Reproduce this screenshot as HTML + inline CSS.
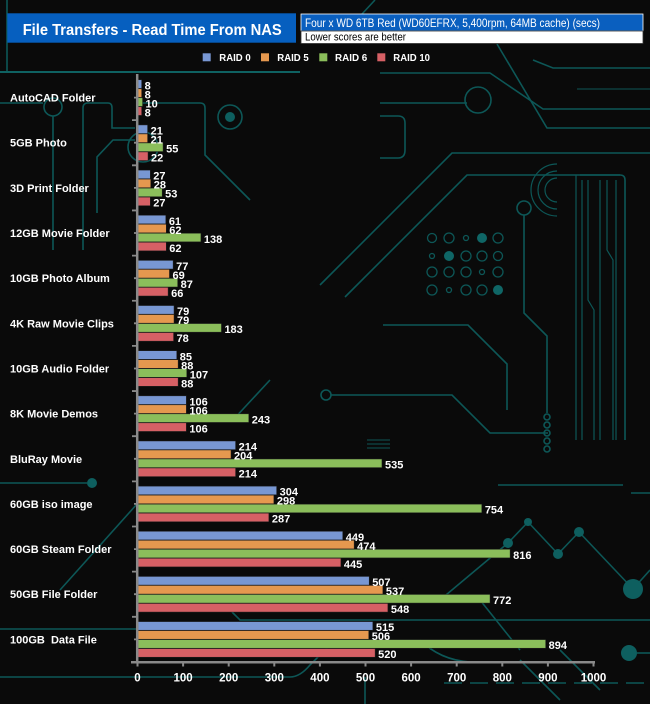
<!DOCTYPE html>
<html><head><meta charset="utf-8">
<style>
html,body{margin:0;padding:0;background:#0a0a0a;}
svg{display:block;}
.b{fill:#7897d3}.o{fill:#e5984f}.g{fill:#8bbe5b}.r{fill:#d66065}
.bars rect{stroke:#1e1e1e;stroke-width:.5}
.v{font:bold 11px "Liberation Sans",sans-serif;fill:#fff}
.c{font:bold 11px "Liberation Sans",sans-serif;fill:#fff}
.t{font:bold 11.5px "Liberation Sans",sans-serif;fill:#fff;text-anchor:middle}
.l{font:bold 10.5px "Liberation Sans",sans-serif;fill:#fff}
</style></head><body>
<svg width="650" height="704" viewBox="0 0 650 704" xmlns="http://www.w3.org/2000/svg">
<rect width="650" height="704" fill="#0a0a0a"/>
<!-- background circuit traces -->
<g fill="none" stroke="#0d5757" stroke-width="1.6">
<path d="M7,0 V72"/>
<path d="M0,72 H300" stroke="#0f6262" stroke-width="2"/>
<path d="M375,0 L362,14"/>
<path d="M497,44 L547,128 H650"/>
<path d="M380,73 H490 L543,109 H650"/>
<path d="M533,60 L553,68 H650"/>
<path d="M577,89 H650" stroke-width="1"/>
<circle cx="478" cy="100" r="13"/>
<path d="M380,103 H467"/>
<path d="M380,116 H398 Q405,116 405,123 V150 Q405,158 398,158 H380"/>
<path d="M650,153 H452 L320,285"/>
<path d="M620,175 H467 L345,297"/>
<circle cx="53" cy="107" r="9"/>
<path d="M53,116 V250"/>
<path d="M0,103 H43"/>
<path d="M83,250 V108 Q83,103 88,103 H108 Q112,103 112,108 V128 H135"/>
<path d="M140,103 H200 Q205,103 205,108 V155 L250,200"/>
<path d="M97,213 V157 L113,140 H135"/>
<circle cx="230" cy="117" r="12"/>
<circle cx="143" cy="147" r="15"/>
<path d="M0,483 H87"/>
<path d="M137,504 L60,590"/>
<path d="M0,629 H137"/>
<path d="M0,677 H290 Q300,677 310,665 L345,630"/>
<path d="M270,380 L232,421"/>
<circle cx="326" cy="395" r="5"/>
<path d="M331,395 H452 L490,433 H548"/>
<circle cx="524" cy="208" r="7"/>
<path d="M524,215 V313 L547,336 V413"/>
<circle cx="547" cy="417" r="3"/><circle cx="547" cy="425" r="3"/><circle cx="547" cy="433" r="3"/><circle cx="547" cy="441" r="3"/><circle cx="547" cy="449" r="3"/>
<path d="M383,325 H468 L507,364 V410"/>
<path d="M580,175 H620 Q625,175 625,180 V440"/>
<path d="M576,175 V440 M582,180 V440 M588,180 V300 L594,310 V440 M600,180 V440 M607,180 V250 L613,260 V440 M616,180 V440" stroke-width="1.2"/>
<path d="M557,178 A12,12 0 0 0 557,202 M557,171 A19,19 0 0 0 557,209 M557,164 A26,26 0 0 0 557,216" stroke-width="1.2"/>
<path d="M440,600 L508,543 L528,522 L558,554 L579,532 L633,589 L650,570"/>
<path d="M637,653 H650"/>
<path d="M232,612 L240,620 H650"/>
<path d="M444,683 H650" stroke-dasharray="18,8"/>
<path d="M365,677 V704"/>
<path d="M631,493 H650"/>
<path d="M498,485 H623"/>
<path d="M420,640 Q440,660 470,662 M480,600 L520,650 M560,650 L600,690 M520,660 L560,700"/>
<path d="M367,440 H390 M367,444 H390 M367,448 H390" stroke-width="1"/>
</g>
<g fill="#0e5f5f">
<circle cx="92" cy="483" r="5"/>
<circle cx="508" cy="543" r="5"/><circle cx="528" cy="522" r="4"/><circle cx="558" cy="554" r="5"/><circle cx="579" cy="532" r="5"/>
<circle cx="633" cy="589" r="10"/>
<circle cx="629" cy="653" r="8"/>
<circle cx="230" cy="117" r="5"/>
</g>
<!-- dot grid -->
<g fill="none" stroke="#0d5757" stroke-width="1.3">
<circle cx="432" cy="238" r="4.5"/><circle cx="449" cy="238" r="5"/><circle cx="466" cy="238" r="2.5"/><circle cx="498" cy="238" r="5"/>
<circle cx="432" cy="256" r="2.5"/><circle cx="466" cy="256" r="5"/><circle cx="482" cy="256" r="5"/><circle cx="498" cy="256" r="4.5"/>
<circle cx="432" cy="272" r="5"/><circle cx="449" cy="272" r="5"/><circle cx="466" cy="272" r="5"/><circle cx="482" cy="272" r="2.5"/><circle cx="498" cy="272" r="5"/>
<circle cx="432" cy="290" r="5"/><circle cx="449" cy="290" r="2.5"/><circle cx="466" cy="290" r="5"/><circle cx="482" cy="290" r="5"/>
</g>
<g fill="#0f6666"><circle cx="482" cy="238" r="5"/><circle cx="449" cy="256" r="5"/><circle cx="498" cy="290" r="5"/></g>

<!-- header -->
<rect x="7.3" y="13.3" width="288.7" height="29.4" fill="#065fbf"/>
<text x="22.7" y="35" textLength="259" lengthAdjust="spacingAndGlyphs" style="font:bold 16px 'Liberation Sans',sans-serif;fill:#fff">File Transfers - Read Time From NAS</text>
<rect x="301" y="14" width="342" height="17" fill="#0a5fbf" stroke="#ffffff" stroke-width="0.8"/>
<rect x="301" y="31" width="342" height="12.5" fill="#ffffff" stroke="#333" stroke-width="0.8"/>
<text x="305" y="27" textLength="295" lengthAdjust="spacingAndGlyphs" style="font:12px 'Liberation Sans',sans-serif;fill:#fff">Four x WD 6TB Red (WD60EFRX, 5,400rpm, 64MB cache) (secs)</text>
<text x="305" y="40.5" textLength="101" lengthAdjust="spacingAndGlyphs" style="font:11px 'Liberation Sans',sans-serif;fill:#000">Lower scores are better</text>

<!-- legend -->
<rect x="202.7" y="53.3" width="8" height="8" class="b"/>
<text x="219.3" y="61" textLength="31.4" lengthAdjust="spacingAndGlyphs" class="l">RAID 0</text>
<rect x="261" y="53.3" width="8" height="8" class="o"/>
<text x="277.3" y="61" textLength="31.4" lengthAdjust="spacingAndGlyphs" class="l">RAID 5</text>
<rect x="319.3" y="53.3" width="8" height="8" class="g"/>
<text x="335" y="61" textLength="32.3" lengthAdjust="spacingAndGlyphs" class="l">RAID 6</text>
<rect x="377.3" y="53.3" width="8" height="8" class="r"/>
<text x="393.3" y="61" textLength="36.7" lengthAdjust="spacingAndGlyphs" class="l">RAID 10</text>

<!-- category labels -->
<g class="c">
<text x="10" y="101.6" class="c">AutoCAD Folder</text>
<text x="10" y="146.7" class="c">5GB Photo</text>
<text x="10" y="191.9" class="c">3D Print Folder</text>
<text x="10" y="237" class="c">12GB Movie Folder</text>
<text x="10" y="282.2" class="c">10GB Photo Album</text>
<text x="10" y="327.3" class="c">4K Raw Movie Clips</text>
<text x="10" y="372.5" class="c">10GB Audio Folder</text>
<text x="10" y="417.6" class="c">8K Movie Demos</text>
<text x="10" y="462.8" class="c">BluRay Movie</text>
<text x="10" y="507.9" class="c">60GB iso image</text>
<text x="10" y="553.1" class="c">60GB Steam Folder</text>
<text x="10" y="598.2" class="c">50GB File Folder</text>
<text x="10" y="643.4" class="c">100GB&#160; Data File</text>
</g>

<!-- bars -->
<g class="bars">
<g transform="translate(138,75)">
<rect y="4.8" width="3.65" height="8.6" class="b"/><rect y="13.8" width="3.65" height="8.6" class="o"/><rect y="22.8" width="4.56" height="8.6" class="g"/><rect y="31.8" width="3.65" height="8.6" class="r"/>
<text class="v" x="6.65" y="14.4">8</text><text class="v" x="6.65" y="23.4">8</text><text class="v" x="7.56" y="32.4">10</text><text class="v" x="6.65" y="41.4">8</text>
</g>
<g transform="translate(138,120.15)">
<rect y="4.8" width="9.58" height="8.6" class="b"/><rect y="13.8" width="9.58" height="8.6" class="o"/><rect y="22.8" width="25.08" height="8.6" class="g"/><rect y="31.8" width="10.03" height="8.6" class="r"/>
<text class="v" x="12.58" y="14.4">21</text><text class="v" x="12.58" y="23.4">21</text><text class="v" x="28.08" y="32.4">55</text><text class="v" x="13.03" y="41.4">22</text>
</g>
<g transform="translate(138,165.3)">
<rect y="4.8" width="12.31" height="8.6" class="b"/><rect y="13.8" width="12.77" height="8.6" class="o"/><rect y="22.8" width="24.17" height="8.6" class="g"/><rect y="31.8" width="12.31" height="8.6" class="r"/>
<text class="v" x="15.31" y="14.4">27</text><text class="v" x="15.77" y="23.4">28</text><text class="v" x="27.17" y="32.4">53</text><text class="v" x="15.31" y="41.4">27</text>
</g>
<g transform="translate(138,210.45)">
<rect y="4.8" width="27.82" height="8.6" class="b"/><rect y="13.8" width="28.27" height="8.6" class="o"/><rect y="22.8" width="62.93" height="8.6" class="g"/><rect y="31.8" width="28.27" height="8.6" class="r"/>
<text class="v" x="30.82" y="14.4">61</text><text class="v" x="31.27" y="23.4">62</text><text class="v" x="65.93" y="32.4">138</text><text class="v" x="31.27" y="41.4">62</text>
</g>
<g transform="translate(138,255.6)">
<rect y="4.8" width="35.11" height="8.6" class="b"/><rect y="13.8" width="31.46" height="8.6" class="o"/><rect y="22.8" width="39.67" height="8.6" class="g"/><rect y="31.8" width="30.1" height="8.6" class="r"/>
<text class="v" x="38.11" y="14.4">77</text><text class="v" x="34.46" y="23.4">69</text><text class="v" x="42.67" y="32.4">87</text><text class="v" x="33.1" y="41.4">66</text>
</g>
<g transform="translate(138,300.75)">
<rect y="4.8" width="36.02" height="8.6" class="b"/><rect y="13.8" width="36.02" height="8.6" class="o"/><rect y="22.8" width="83.45" height="8.6" class="g"/><rect y="31.8" width="35.57" height="8.6" class="r"/>
<text class="v" x="39.02" y="14.4">79</text><text class="v" x="39.02" y="23.4">79</text><text class="v" x="86.45" y="32.4">183</text><text class="v" x="38.57" y="41.4">78</text>
</g>
<g transform="translate(138,345.9)">
<rect y="4.8" width="38.76" height="8.6" class="b"/><rect y="13.8" width="40.13" height="8.6" class="o"/><rect y="22.8" width="48.79" height="8.6" class="g"/><rect y="31.8" width="40.13" height="8.6" class="r"/>
<text class="v" x="41.76" y="14.4">85</text><text class="v" x="43.13" y="23.4">88</text><text class="v" x="51.79" y="32.4">107</text><text class="v" x="43.13" y="41.4">88</text>
</g>
<g transform="translate(138,391.05)">
<rect y="4.8" width="48.34" height="8.6" class="b"/><rect y="13.8" width="48.34" height="8.6" class="o"/><rect y="22.8" width="110.81" height="8.6" class="g"/><rect y="31.8" width="48.34" height="8.6" class="r"/>
<text class="v" x="51.34" y="14.4">106</text><text class="v" x="51.34" y="23.4">106</text><text class="v" x="113.81" y="32.4">243</text><text class="v" x="51.34" y="41.4">106</text>
</g>
<g transform="translate(138,436.2)">
<rect y="4.8" width="97.58" height="8.6" class="b"/><rect y="13.8" width="93.02" height="8.6" class="o"/><rect y="22.8" width="243.96" height="8.6" class="g"/><rect y="31.8" width="97.58" height="8.6" class="r"/>
<text class="v" x="100.58" y="14.4">214</text><text class="v" x="96.02" y="23.4">204</text><text class="v" x="246.96" y="32.4">535</text><text class="v" x="100.58" y="41.4">214</text>
</g>
<g transform="translate(138,481.35)">
<rect y="4.8" width="138.62" height="8.6" class="b"/><rect y="13.8" width="135.89" height="8.6" class="o"/><rect y="22.8" width="343.82" height="8.6" class="g"/><rect y="31.8" width="130.87" height="8.6" class="r"/>
<text class="v" x="141.62" y="14.4">304</text><text class="v" x="138.89" y="23.4">298</text><text class="v" x="346.82" y="32.4">754</text><text class="v" x="133.87" y="41.4">287</text>
</g>
<g transform="translate(138,526.5)">
<rect y="4.8" width="204.74" height="8.6" class="b"/><rect y="13.8" width="216.14" height="8.6" class="o"/><rect y="22.8" width="372.1" height="8.6" class="g"/><rect y="31.8" width="202.92" height="8.6" class="r"/>
<text class="v" x="207.74" y="14.4">449</text><text class="v" x="219.14" y="23.4">474</text><text class="v" x="375.1" y="32.4">816</text><text class="v" x="205.92" y="41.4">445</text>
</g>
<g transform="translate(138,571.65)">
<rect y="4.8" width="231.19" height="8.6" class="b"/><rect y="13.8" width="244.87" height="8.6" class="o"/><rect y="22.8" width="352.03" height="8.6" class="g"/><rect y="31.8" width="249.89" height="8.6" class="r"/>
<text class="v" x="234.19" y="14.4">507</text><text class="v" x="247.87" y="23.4">537</text><text class="v" x="355.03" y="32.4">772</text><text class="v" x="252.89" y="41.4">548</text>
</g>
<g transform="translate(138,616.8)">
<rect y="4.8" width="234.84" height="8.6" class="b"/><rect y="13.8" width="230.74" height="8.6" class="o"/><rect y="22.8" width="407.66" height="8.6" class="g"/><rect y="31.8" width="237.12" height="8.6" class="r"/>
<text class="v" x="237.84" y="14.4">515</text><text class="v" x="233.74" y="23.4">506</text><text class="v" x="410.66" y="32.4">894</text><text class="v" x="240.12" y="41.4">520</text>
</g>
</g>

<!-- axes -->
<g stroke="#8a8a8a" fill="none">
<path d="M137.2,74 V663.5" stroke-width="2.5"/>
<path d="M131,662.2 H595" stroke-width="2.5"/>
<path d="M132,120.15 H137 M132,165.3 H137 M132,210.45 H137 M132,255.6 H137 M132,300.75 H137 M132,345.9 H137 M132,391.05 H137 M132,436.2 H137 M132,481.35 H137 M132,526.5 H137 M132,571.65 H137 M132,616.8 H137" stroke-width="1.8"/>
<path d="M134,97.6 H137 M134,142.7 H137 M134,187.9 H137 M134,233 H137 M134,278.2 H137 M134,323.3 H137 M134,368.5 H137 M134,413.6 H137 M134,458.8 H137 M134,503.9 H137 M134,549.1 H137 M134,594.2 H137 M134,639.4 H137" stroke-width="1.8"/>
<path d="M137.5,662 V666.5 M183.1,662 V666.5 M228.7,662 V666.5 M274.3,662 V666.5 M319.9,662 V666.5 M365.5,662 V666.5 M411.1,662 V666.5 M456.7,662 V666.5 M502.3,662 V666.5 M547.9,662 V666.5 M593.5,662 V666.5" stroke-width="2"/>
</g>
<g class="t">
<text x="137.5" y="681.5" class="t">0</text>
<text x="183.1" y="681.5" class="t">100</text>
<text x="228.7" y="681.5" class="t">200</text>
<text x="274.3" y="681.5" class="t">300</text>
<text x="319.9" y="681.5" class="t">400</text>
<text x="365.5" y="681.5" class="t">500</text>
<text x="411.1" y="681.5" class="t">600</text>
<text x="456.7" y="681.5" class="t">700</text>
<text x="502.3" y="681.5" class="t">800</text>
<text x="547.9" y="681.5" class="t">900</text>
<text x="593.5" y="681.5" class="t">1000</text>
</g>
</svg>
</body></html>
